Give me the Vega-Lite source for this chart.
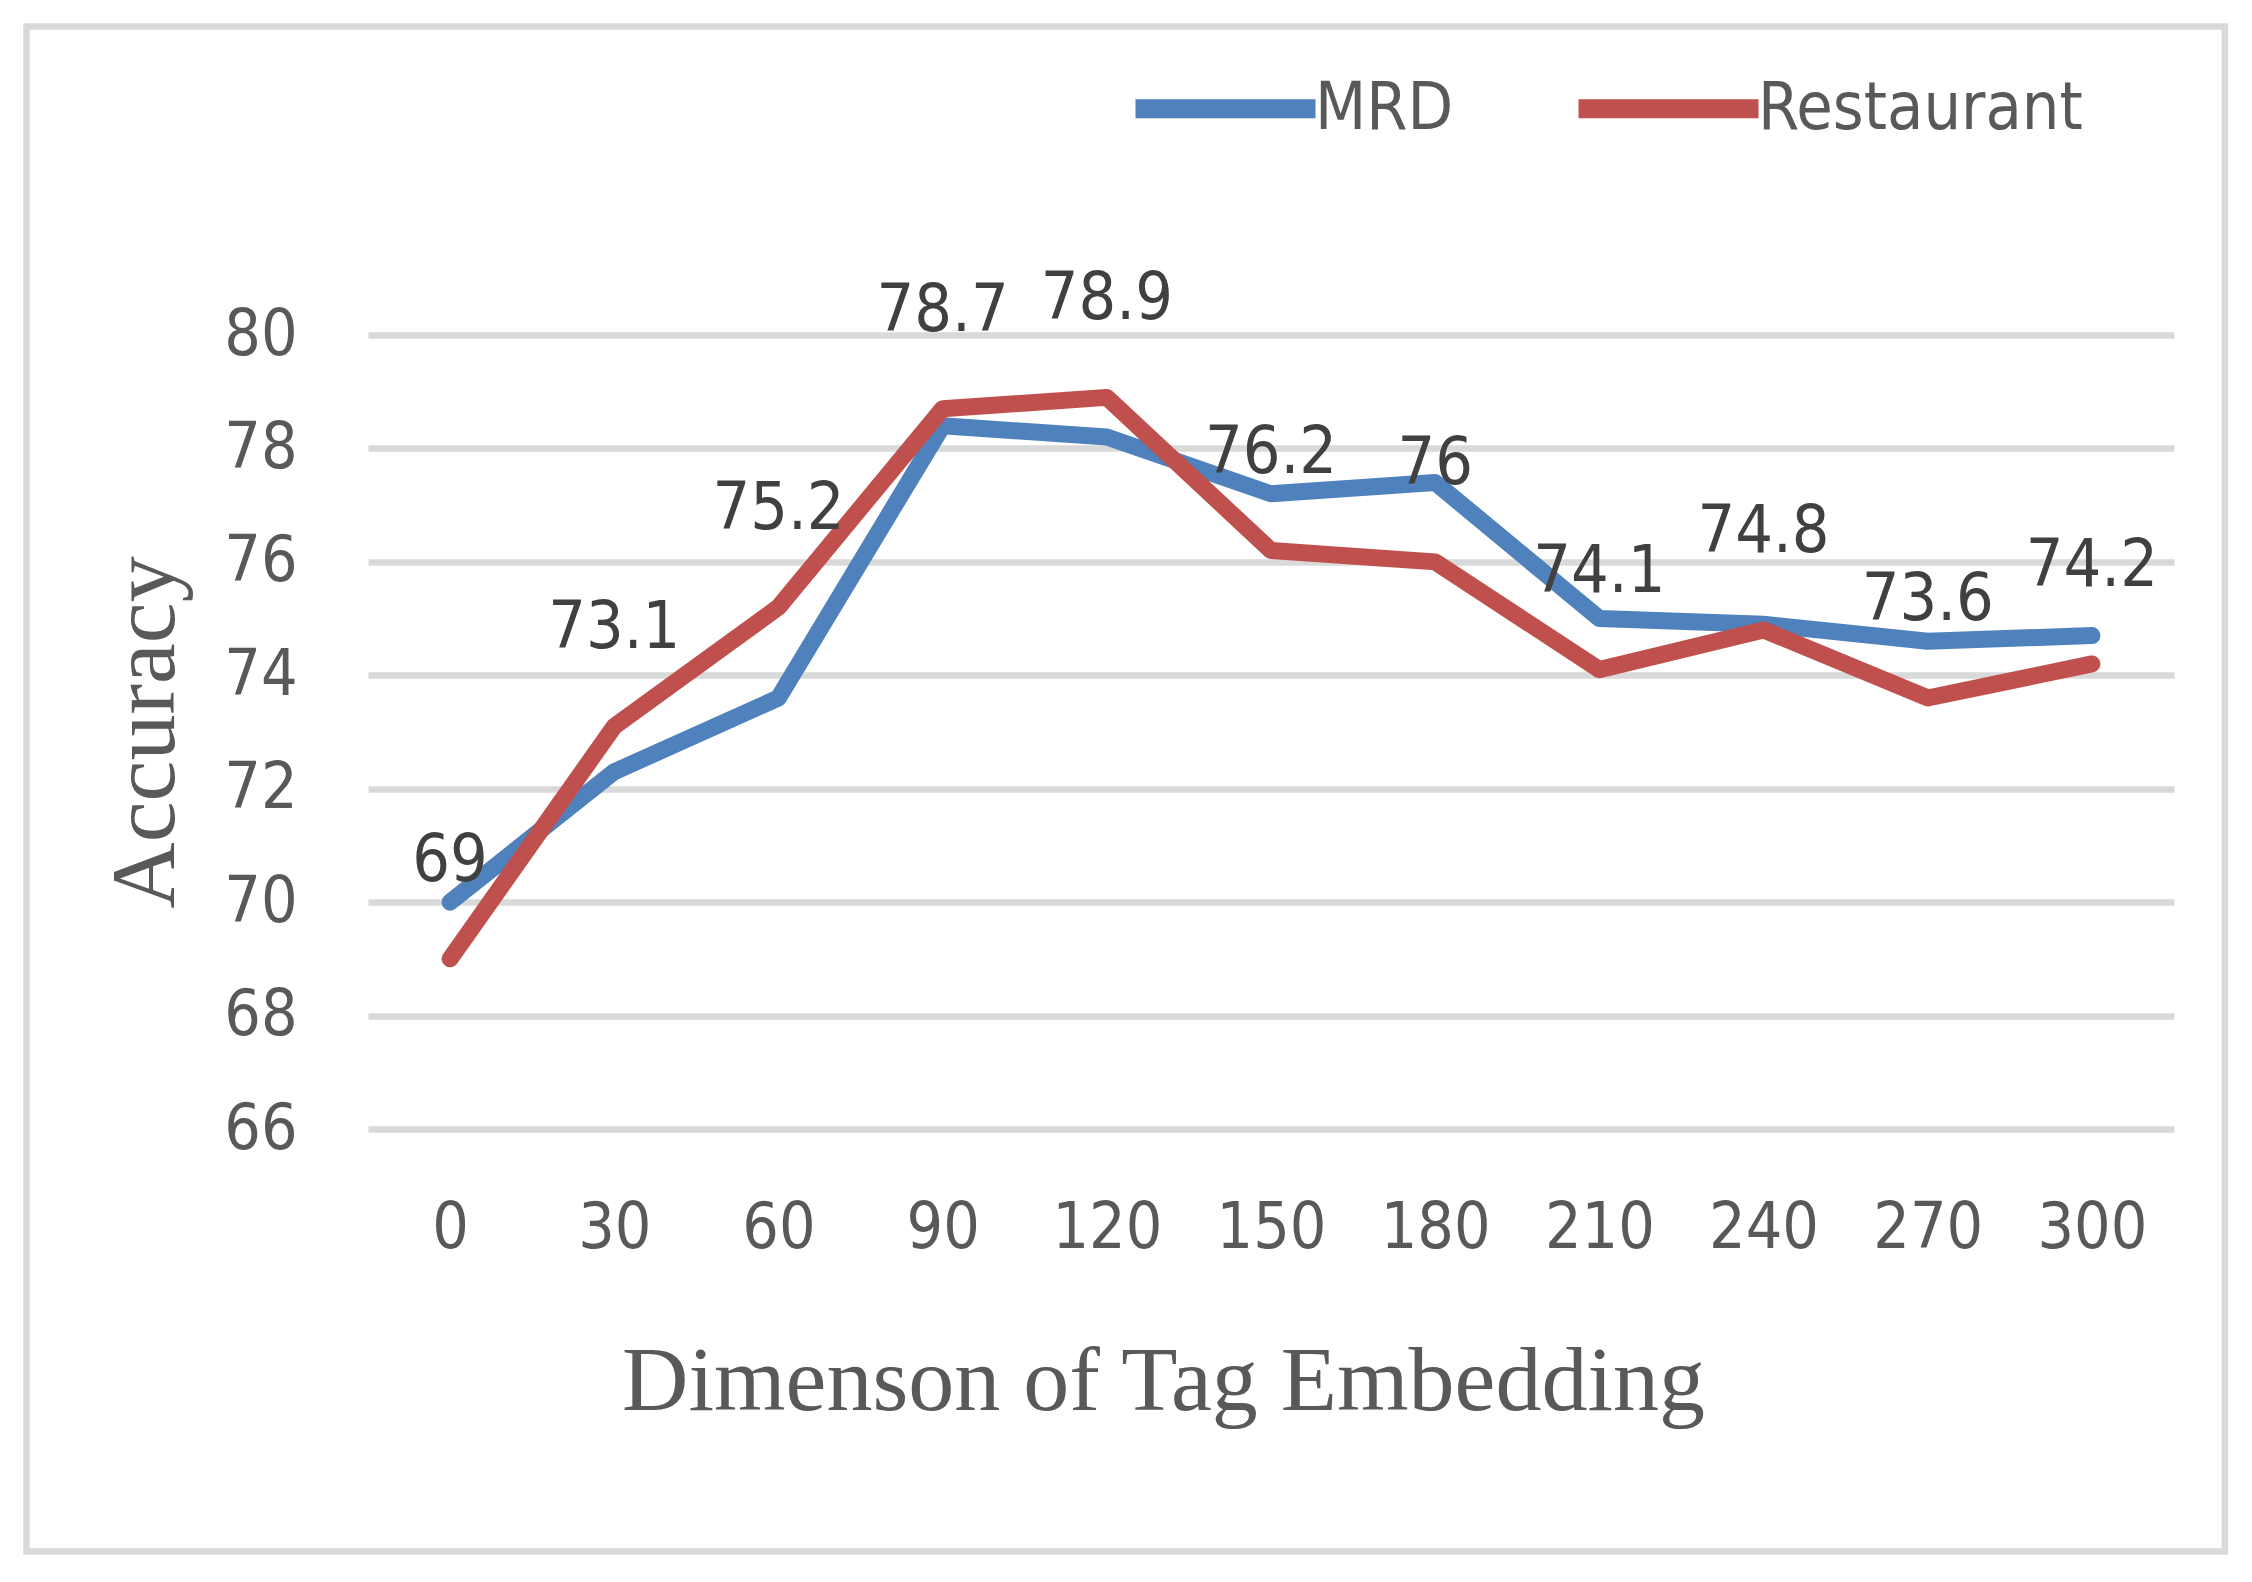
{
  "$schema": "https://vega.github.io/schema/vega-lite/v6.json",
  "width": 1806,
  "height": 794,
  "autosize": {"type": "none"},
  "padding": {"left": 368, "top": 335, "right": 78, "bottom": 453},
  "background": "white",
  "data": {
    "values": [
      {"dim": 0, "acc": 70.0, "series": "MRD"},
      {"dim": 30, "acc": 72.3, "series": "MRD"},
      {"dim": 60, "acc": 73.6, "series": "MRD"},
      {"dim": 90, "acc": 78.4, "series": "MRD"},
      {"dim": 120, "acc": 78.2, "series": "MRD"},
      {"dim": 150, "acc": 77.2, "series": "MRD"},
      {"dim": 180, "acc": 77.4, "series": "MRD"},
      {"dim": 210, "acc": 75.0, "series": "MRD"},
      {"dim": 240, "acc": 74.9, "series": "MRD"},
      {"dim": 270, "acc": 74.6, "series": "MRD"},
      {"dim": 300, "acc": 74.7, "series": "MRD"},
      {"dim": 0, "acc": 69, "series": "Restaurant"},
      {"dim": 30, "acc": 73.1, "series": "Restaurant"},
      {"dim": 60, "acc": 75.2, "series": "Restaurant"},
      {"dim": 90, "acc": 78.7, "series": "Restaurant"},
      {"dim": 120, "acc": 78.9, "series": "Restaurant"},
      {"dim": 150, "acc": 76.2, "series": "Restaurant"},
      {"dim": 180, "acc": 76, "series": "Restaurant"},
      {"dim": 210, "acc": 74.1, "series": "Restaurant"},
      {"dim": 240, "acc": 74.8, "series": "Restaurant"},
      {"dim": 270, "acc": 73.6, "series": "Restaurant"},
      {"dim": 300, "acc": 74.2, "series": "Restaurant"}
    ]
  },
  "layer": [
    {
      "data": {"values": [{}]},
      "mark": {"type": "rect", "filled": false, "stroke": "#D9D9D9", "strokeWidth": 6.5},
      "encoding": {
        "x": {"datum": -77.4, "type": "quantitative"},
        "x2": {"datum": 324.3},
        "y": {"datum": 85.44, "type": "quantitative"},
        "y2": {"datum": 58.55}
      }
    },
    {
      "mark": {"type": "line", "strokeWidth": 17, "strokeCap": "round", "strokeJoin": "round"},
      "encoding": {
        "x": {
          "field": "dim",
          "type": "quantitative",
          "scale": {"domain": [-15, 315], "nice": false, "zero": false},
          "axis": {
            "values": [0, 30, 60, 90, 120, 150, 180, 210, 240, 270, 300],
            "grid": false,
            "domain": false,
            "ticks": false,
            "labelPadding": 67,
            "title": "Dimenson of Tag Embedding",
            "titleX": 795,
            "titleY": 280,
            "titleBaseline": "alphabetic"
          }
        },
        "y": {
          "field": "acc",
          "type": "quantitative",
          "scale": {"domain": [66, 80], "nice": false, "zero": false},
          "axis": {
            "values": [66, 68, 70, 72, 74, 76, 78, 80],
            "format": "d",
            "grid": true,
            "gridColor": "#D9D9D9",
            "gridWidth": 6.5,
            "domain": false,
            "ticks": false,
            "labelPadding": 71,
            "title": "Accuracy",
            "titleX": -195,
            "titleY": 397,
            "titleBaseline": "alphabetic"
          }
        },
        "color": {
          "field": "series",
          "type": "nominal",
          "scale": {"domain": ["MRD", "Restaurant"], "range": ["#4F81BD", "#C0504D"]},
          "legend": {
            "title": null,
            "orient": "none",
            "direction": "horizontal",
            "legendX": 758,
            "legendY": -326,
            "symbolType": "stroke",
            "symbolSize": 32400,
            "symbolStrokeWidth": 19,
            "labelOffset": -10,
            "columnPadding": 86
          }
        }
      }
    },
    {
      "transform": [{"filter": "datum.series === 'Restaurant'"}],
      "mark": {"type": "text", "dy": -98, "baseline": "middle", "fontSize": 66, "font": "DejaVu Sans Condensed", "color": "#404040"},
      "encoding": {
        "x": {"field": "dim", "type": "quantitative"},
        "y": {"field": "acc", "type": "quantitative"},
        "text": {"field": "acc", "type": "nominal"}
      }
    }
  ],
  "config": {
    "view": {"stroke": null},
    "axis": {
      "labelFont": "DejaVu Sans Condensed",
      "labelFontSize": 64,
      "labelColor": "#595959",
      "titleFont": "Liberation Serif",
      "titleFontSize": 92,
      "titleFontWeight": "normal",
      "titleColor": "#595959"
    },
    "legend": {
      "labelFont": "DejaVu Sans Condensed",
      "labelFontSize": 66,
      "labelColor": "#595959",
      "labelLimit": 0
    }
  }
}
